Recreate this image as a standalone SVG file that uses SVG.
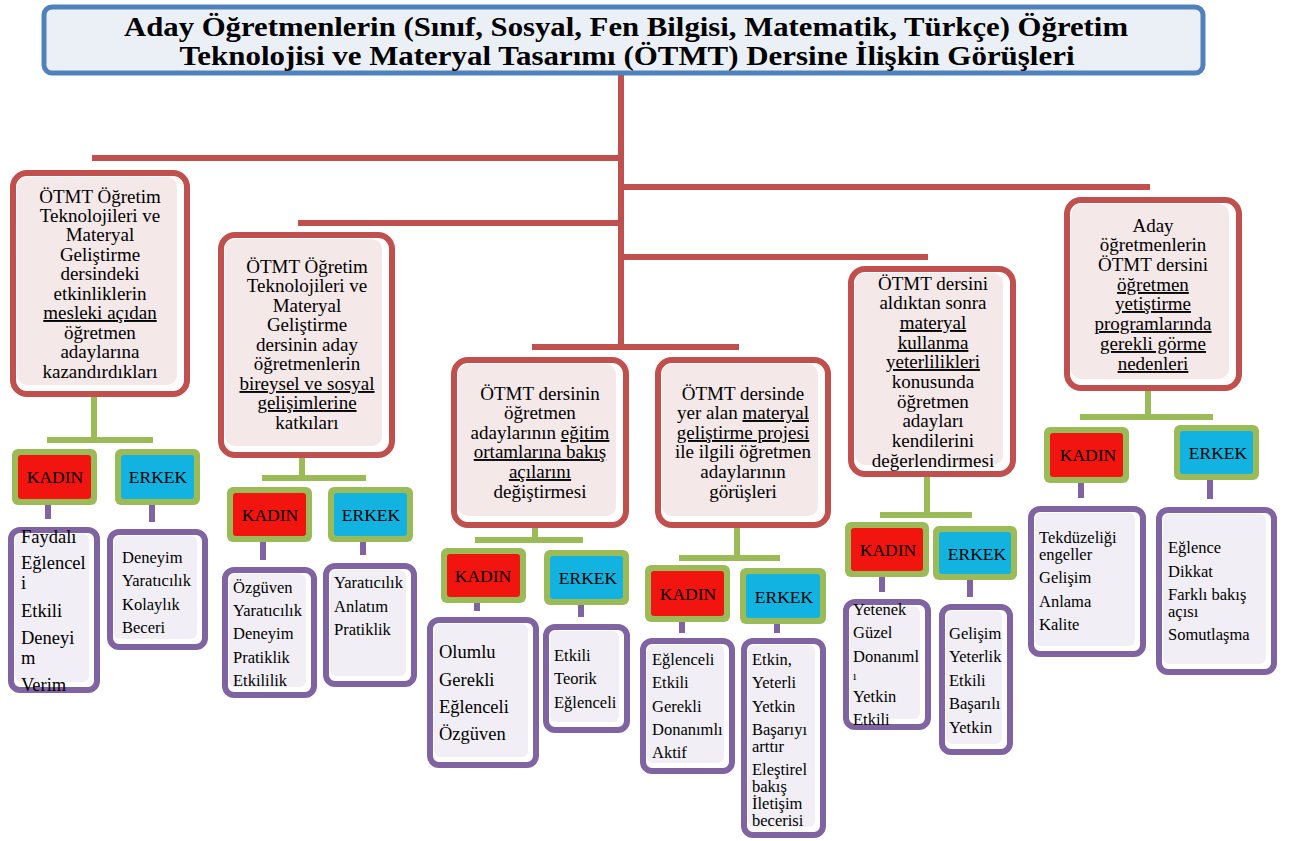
<svg xmlns="http://www.w3.org/2000/svg" width="1293" height="841" viewBox="0 0 1293 841" font-family="Liberation Serif, DejaVu Serif, serif">
<style>
text{font-family:"Liberation Serif","DejaVu Serif",serif;fill:#000}
.cat-o{fill:#fff;stroke:#C0504D;stroke-width:6}
.cat-i{fill:#F5E8E8}
.ct{font-size:19px;text-anchor:middle}
.u{text-decoration:underline}
.gb{fill:#9BBB59}
.kad{fill:#F2150F}
.erk{fill:#12B3E0}
.gt{font-size:17.5px;text-anchor:middle}
.leaf-o{fill:#fff;stroke:#8064A2;stroke-width:6}
.leaf-i{fill:#F1EFF5}
.lt{font-size:16.5px}
.lb{font-size:18.5px}
.red{stroke:#C0504D;stroke-width:6;fill:none}
.grn{stroke:#9BBB59;stroke-width:6;fill:none}
.pur{stroke:#8064A2;stroke-width:6;fill:none}
</style>

<g id="connectors">
  <path class="red" d="M621 75V347M92 158H621M621 187H1150M298 223H621M621 257H928M532 347H739"/>
  <path class="grn" d="M94 397V440M47 440H153M302 458V478M262 478H366M535 528V540M475 540H583M737 528V558M679 558H780M927 477V515M880 515H972M1148 391V417M1080 417H1213"/>
  <path class="pur" d="M48 505V519M152 505V522M263 542V560M363 542V555M477 603V611M581 605V617M682 622V633M777 624V633M882 577V592M970 580V597M1081 483V498M1210 480V499"/>
</g>

<g id="title">
  <rect x="44" y="7" width="1159" height="66" rx="8" fill="#EBF0F7" stroke="#4F81BD" stroke-width="5"/>
  <text font-family="Liberation Serif, DejaVu Serif, serif" font-weight="bold" font-size="27" text-anchor="middle"><tspan x="626" y="36" textLength="1004" lengthAdjust="spacingAndGlyphs">Aday Öğretmenlerin (Sınıf, Sosyal, Fen Bilgisi, Matematik, Türkçe) Öğretim</tspan><tspan x="627" y="65" textLength="895" lengthAdjust="spacingAndGlyphs">Teknolojisi ve Materyal Tasarımı (ÖTMT) Dersine İlişkin Görüşleri</tspan></text>
</g>

<g id="cat1">
  <rect class="cat-o" x="13" y="173" width="174" height="221" rx="14"/>
  <rect class="cat-i" x="17" y="177" width="160" height="208" rx="10"/>
  <text class="ct"><tspan x="100" y="203">ÖTMT Öğretim</tspan><tspan x="100" y="222">Teknolojileri ve</tspan><tspan x="100" y="241">Materyal</tspan><tspan x="100" y="261">Geliştirme</tspan><tspan x="100" y="280">dersindeki</tspan><tspan x="100" y="300">etkinliklerin</tspan><tspan x="100" y="319" class="u">mesleki açıdan</tspan><tspan x="100" y="339">öğretmen</tspan><tspan x="100" y="358">adaylarına</tspan><tspan x="100" y="378">kazandırdıkları</tspan></text>
</g>

<g id="cat2">
  <rect class="cat-o" x="221" y="235" width="171" height="220" rx="14"/>
  <rect class="cat-i" x="225" y="239" width="157" height="207" rx="10"/>
  <text class="ct"><tspan x="307" y="273">ÖTMT Öğretim</tspan><tspan x="307" y="292">Teknolojileri ve</tspan><tspan x="307" y="312">Materyal</tspan><tspan x="307" y="331">Geliştirme</tspan><tspan x="307" y="351">dersinin aday</tspan><tspan x="307" y="370">öğretmenlerin</tspan><tspan x="307" y="390" class="u">bireysel ve sosyal</tspan><tspan x="307" y="409" class="u">gelişimlerine</tspan><tspan x="307" y="429">katkıları</tspan></text>
</g>

<g id="cat3">
  <rect class="cat-o" x="454" y="360" width="172" height="165" rx="14"/>
  <rect class="cat-i" x="458" y="364" width="158" height="152" rx="10"/>
  <text class="ct"><tspan x="540" y="400">ÖTMT dersinin</tspan><tspan x="540" y="419">öğretmen</tspan><tspan x="540" y="439">adaylarının <tspan class="u">eğitim</tspan></tspan><tspan x="540" y="458" class="u">ortamlarına bakış</tspan><tspan x="540" y="478" class="u">açılarını</tspan><tspan x="540" y="498">değiştirmesi</tspan></text>
</g>

<g id="cat4">
  <rect class="cat-o" x="658" y="360" width="170" height="165" rx="14"/>
  <rect class="cat-i" x="662" y="364" width="156" height="152" rx="10"/>
  <text class="ct"><tspan x="743" y="400">ÖTMT dersinde</tspan><tspan x="743" y="419">yer alan <tspan class="u">materyal</tspan></tspan><tspan x="743" y="439" class="u">geliştirme projesi</tspan><tspan x="743" y="458">ile ilgili öğretmen</tspan><tspan x="743" y="478">adaylarının</tspan><tspan x="743" y="498">görüşleri</tspan></text>
</g>

<g id="cat5">
  <rect class="cat-o" x="851" y="269" width="162" height="205" rx="14"/>
  <rect class="cat-i" x="855" y="273" width="148" height="192" rx="10"/>
  <text class="ct"><tspan x="933" y="290">ÖTMT dersini</tspan><tspan x="933" y="309">aldıktan sonra</tspan><tspan x="933" y="329" class="u">materyal</tspan><tspan x="933" y="349" class="u">kullanma</tspan><tspan x="933" y="368" class="u">yeterlilikleri</tspan><tspan x="933" y="388">konusunda</tspan><tspan x="933" y="408">öğretmen</tspan><tspan x="933" y="427">adayları</tspan><tspan x="933" y="447">kendilerini</tspan><tspan x="933" y="467">değerlendirmesi</tspan></text>
</g>

<g id="cat6">
  <rect class="cat-o" x="1067" y="200" width="172" height="188" rx="14"/>
  <rect class="cat-i" x="1071" y="204" width="158" height="175" rx="10"/>
  <text class="ct"><tspan x="1153" y="232">Aday</tspan><tspan x="1153" y="251">öğretmenlerin</tspan><tspan x="1153" y="271">ÖTMT dersini</tspan><tspan x="1153" y="291" class="u">öğretmen</tspan><tspan x="1153" y="310" class="u">yetiştirme</tspan><tspan x="1153" y="330" class="u">programlarında</tspan><tspan x="1153" y="350" class="u">gerekli görme</tspan><tspan x="1153" y="370" class="u">nedenleri</tspan></text>
</g>

<g id="k1"><rect class="gb" x="12" y="449" width="85" height="56" rx="6"/><rect class="kad" x="18" y="455" width="73" height="44" rx="3"/><text class="gt" x="55" y="483">KADIN</text></g>
<g id="e1"><rect class="gb" x="115" y="449" width="85" height="56" rx="6"/><rect class="erk" x="121" y="455" width="73" height="44" rx="3"/><text class="gt" x="158" y="483">ERKEK</text></g>
<g id="k2"><rect class="gb" x="227" y="487" width="85" height="55" rx="6"/><rect class="kad" x="233" y="493" width="73" height="43" rx="3"/><text class="gt" x="270" y="521">KADIN</text></g>
<g id="e2"><rect class="gb" x="328" y="487" width="85" height="55" rx="6"/><rect class="erk" x="334" y="493" width="73" height="43" rx="3"/><text class="gt" x="371" y="521">ERKEK</text></g>
<g id="k3"><rect class="gb" x="441" y="548" width="85" height="55" rx="6"/><rect class="kad" x="447" y="554" width="73" height="43" rx="3"/><text class="gt" x="483" y="582">KADIN</text></g>
<g id="e3"><rect class="gb" x="544" y="550" width="85" height="55" rx="6"/><rect class="erk" x="550" y="556" width="73" height="43" rx="3"/><text class="gt" x="588" y="584">ERKEK</text></g>
<g id="k4"><rect class="gb" x="645" y="565" width="85" height="57" rx="6"/><rect class="kad" x="651" y="571" width="73" height="45" rx="3"/><text class="gt" x="688" y="600">KADIN</text></g>
<g id="e4"><rect class="gb" x="740" y="568" width="86" height="56" rx="6"/><rect class="erk" x="746" y="574" width="74" height="44" rx="3"/><text class="gt" x="784" y="603">ERKEK</text></g>
<g id="k5"><rect class="gb" x="845" y="522" width="84" height="55" rx="6"/><rect class="kad" x="851" y="528" width="72" height="43" rx="3"/><text class="gt" x="888" y="556">KADIN</text></g>
<g id="e5"><rect class="gb" x="933" y="526" width="84" height="54" rx="6"/><rect class="erk" x="939" y="532" width="72" height="42" rx="3"/><text class="gt" x="977" y="560">ERKEK</text></g>
<g id="k6"><rect class="gb" x="1044" y="427" width="85" height="56" rx="6"/><rect class="kad" x="1050" y="433" width="73" height="44" rx="3"/><text class="gt" x="1088" y="461">KADIN</text></g>
<g id="e6"><rect class="gb" x="1174" y="425" width="85" height="55" rx="6"/><rect class="erk" x="1180" y="431" width="73" height="43" rx="3"/><text class="gt" x="1218" y="459">ERKEK</text></g>

<g id="l1k">
  <rect class="leaf-o" x="11" y="530" width="86" height="160" rx="9"/>
  <rect class="leaf-i" x="15" y="534" width="74" height="148" rx="6"/>
  <text class="lb"><tspan x="21" y="543">Faydalı</tspan><tspan x="21" y="569">Eğlencel</tspan><tspan x="21" y="589">i</tspan><tspan x="21" y="617">Etkili</tspan><tspan x="21" y="644">Deneyi</tspan><tspan x="21" y="664">m</tspan><tspan x="21" y="691">Verim</tspan></text>
</g>
<g id="l1e">
  <rect class="leaf-o" x="110" y="532" width="95" height="115" rx="9"/>
  <rect class="leaf-i" x="114" y="536" width="83" height="103" rx="6"/>
  <text class="lt"><tspan x="122" y="563">Deneyim</tspan><tspan x="122" y="586">Yaratıcılık</tspan><tspan x="122" y="610">Kolaylık</tspan><tspan x="122" y="633">Beceri</tspan></text>
</g>
<g id="l2k">
  <rect class="leaf-o" x="225" y="570" width="89" height="125" rx="9"/>
  <rect class="leaf-i" x="229" y="574" width="77" height="113" rx="6"/>
  <text class="lt"><tspan x="233" y="593">Özgüven</tspan><tspan x="233" y="616">Yaratıcılık</tspan><tspan x="233" y="639">Deneyim</tspan><tspan x="233" y="663">Pratiklik</tspan><tspan x="233" y="686">Etkililik</tspan></text>
</g>
<g id="l2e">
  <rect class="leaf-o" x="326" y="566" width="88" height="118" rx="9"/>
  <rect class="leaf-i" x="330" y="570" width="76" height="106" rx="6"/>
  <text class="lt"><tspan x="334" y="588">Yaratıcılık</tspan><tspan x="334" y="612">Anlatım</tspan><tspan x="334" y="635">Pratiklik</tspan></text>
</g>
<g id="l3k">
  <rect class="leaf-o" x="430" y="620" width="106" height="145" rx="9"/>
  <rect class="leaf-i" x="434" y="624" width="94" height="133" rx="6"/>
  <text class="lb"><tspan x="439" y="658">Olumlu</tspan><tspan x="439" y="686">Gerekli</tspan><tspan x="439" y="713">Eğlenceli</tspan><tspan x="439" y="740">Özgüven</tspan></text>
</g>
<g id="l3e">
  <rect class="leaf-o" x="546" y="627" width="81" height="103" rx="9"/>
  <rect class="leaf-i" x="550" y="631" width="69" height="91" rx="6"/>
  <text class="lt"><tspan x="554" y="661">Etkili</tspan><tspan x="554" y="684">Teorik</tspan><tspan x="554" y="708">Eğlenceli</tspan></text>
</g>
<g id="l4k">
  <rect class="leaf-o" x="643" y="641" width="89" height="130" rx="9"/>
  <rect class="leaf-i" x="647" y="645" width="77" height="118" rx="6"/>
  <text class="lt"><tspan x="652" y="665">Eğlenceli</tspan><tspan x="652" y="688">Etkili</tspan><tspan x="652" y="712">Gerekli</tspan><tspan x="652" y="735">Donanımlı</tspan><tspan x="652" y="758">Aktif</tspan></text>
</g>
<g id="l4e">
  <rect class="leaf-o" x="744" y="641" width="79" height="194" rx="9"/>
  <rect class="leaf-i" x="748" y="645" width="67" height="182" rx="6"/>
  <text class="lt"><tspan x="752" y="665">Etkin,</tspan><tspan x="752" y="688">Yeterli</tspan><tspan x="752" y="712">Yetkin</tspan><tspan x="752" y="735">Başarıyı</tspan><tspan x="752" y="752">arttır</tspan><tspan x="752" y="775">Eleştirel</tspan><tspan x="752" y="792">bakış</tspan><tspan x="752" y="809">İletişim</tspan><tspan x="752" y="826">becerisi</tspan></text>
</g>
<g id="l5k">
  <rect class="leaf-o" x="846" y="602" width="82" height="125" rx="9"/>
  <rect class="leaf-i" x="850" y="606" width="70" height="113" rx="6"/>
  <text class="lt"><tspan x="853" y="615">Yetenek</tspan><tspan x="853" y="638">Güzel</tspan><tspan x="853" y="662">Donanıml</tspan><tspan x="853" y="680" font-size="12">ı</tspan><tspan x="853" y="702">Yetkin</tspan><tspan x="853" y="725">Etkili</tspan></text>
</g>
<g id="l5e">
  <rect class="leaf-o" x="942" y="607" width="68" height="145" rx="9"/>
  <rect class="leaf-i" x="946" y="611" width="56" height="133" rx="6"/>
  <text class="lt"><tspan x="949" y="639">Gelişim</tspan><tspan x="949" y="662">Yeterlik</tspan><tspan x="949" y="686">Etkili</tspan><tspan x="949" y="709">Başarılı</tspan><tspan x="949" y="733">Yetkin</tspan></text>
</g>
<g id="l6k">
  <rect class="leaf-o" x="1031" y="509" width="112" height="145" rx="9"/>
  <rect class="leaf-i" x="1035" y="513" width="100" height="133" rx="6"/>
  <text class="lt"><tspan x="1039" y="543">Tekdüzeliği</tspan><tspan x="1039" y="560">engeller</tspan><tspan x="1039" y="583">Gelişim</tspan><tspan x="1039" y="607">Anlama</tspan><tspan x="1039" y="630">Kalite</tspan></text>
</g>
<g id="l6e">
  <rect class="leaf-o" x="1159" y="510" width="115" height="162" rx="9"/>
  <rect class="leaf-i" x="1163" y="514" width="103" height="150" rx="6"/>
  <text class="lt"><tspan x="1168" y="553">Eğlence</tspan><tspan x="1168" y="577">Dikkat</tspan><tspan x="1168" y="600">Farklı bakış</tspan><tspan x="1168" y="617">açısı</tspan><tspan x="1168" y="640">Somutlaşma</tspan></text>
</g>
</svg>
